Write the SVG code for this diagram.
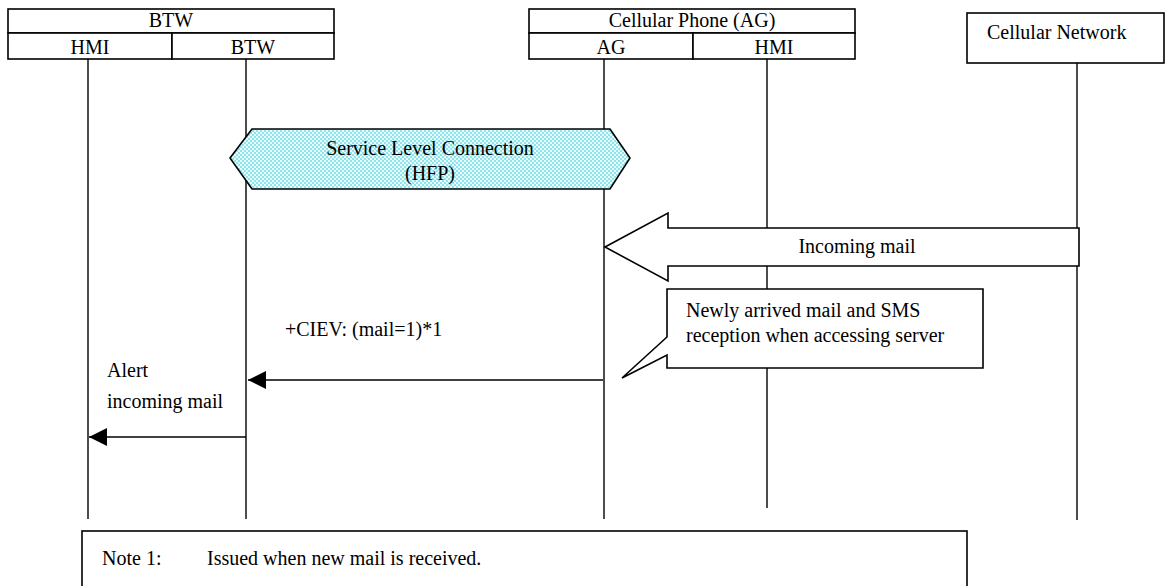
<svg xmlns="http://www.w3.org/2000/svg" width="1167" height="586" viewBox="0 0 1167 586">
<style>
text{font-family:"Liberation Serif","Times New Roman",serif;font-size:20px;fill:#000}
.c{text-anchor:middle}
.box{fill:#fff;stroke:#000;stroke-width:1.6}
.life{stroke:#000;stroke-width:1.4;fill:none}
.msg{stroke:#000;stroke-width:1.6;fill:none}
</style>
<defs>
<pattern id="dots" width="4" height="4" patternUnits="userSpaceOnUse">
<rect width="4" height="4" fill="#8fe3ea"/>
<rect x="0" y="0" width="2" height="2" fill="#e8fbfc"/>
<rect x="2" y="2" width="2" height="2" fill="#e8fbfc"/>
</pattern>
<marker id="ah" viewBox="0 0 18 18" refX="18" refY="9" markerWidth="18" markerHeight="18" markerUnits="userSpaceOnUse" orient="auto">
<path d="M0,0 L18,9 L0,18 Z" fill="#000"/>
</marker>
</defs>

<g id="btw">
<rect class="box" x="8" y="9" width="326" height="24"/>
<rect class="box" x="8" y="33" width="164" height="26"/>
<rect class="box" x="172" y="33" width="162" height="26"/>
<text class="c" x="171" y="27">BTW</text>
<text class="c" x="90" y="54">HMI</text>
<text class="c" x="253" y="54">BTW</text>
</g>

<g id="phone">
<rect class="box" x="529" y="9" width="326" height="24"/>
<rect class="box" x="529" y="33" width="164" height="26"/>
<rect class="box" x="693" y="33" width="162" height="26"/>
<text class="c" x="692" y="27">Cellular Phone (AG)</text>
<text class="c" x="611" y="54">AG</text>
<text class="c" x="774" y="54">HMI</text>
</g>

<g id="network">
<rect class="box" x="967" y="13" width="197" height="50"/>
<text x="987" y="39">Cellular Network</text>
</g>

<g id="lifelines">
<line class="life" x1="88" y1="59" x2="88" y2="519"/>
<line class="life" x1="246" y1="59" x2="246" y2="519"/>
<line class="life" x1="604" y1="59" x2="604" y2="519"/>
<line class="life" x1="767" y1="59" x2="767" y2="508"/>
<line class="life" x1="1077" y1="63" x2="1077" y2="520"/>
</g>

<g id="slc">
<polygon points="230,158 252,129 610,129 630,158 610,189 252,189" fill="url(#dots)" stroke="#000" stroke-width="1.6"/>
<text class="c" x="430" y="155">Service Level Connection</text>
<text class="c" x="430" y="180">(HFP)</text>
</g>

<g id="incoming">
<polygon points="605,247 668,213 668,228 1079,228 1079,266 668,266 668,281" fill="#fff" stroke="#000" stroke-width="1.6"/>
<text class="c" x="857" y="253">Incoming mail</text>
</g>

<g id="callout">
<path d="M667,337 L667,289 L983,289 L983,368 L667,368 L667,355 L622,378 Z" fill="#fff" stroke="#000" stroke-width="1.6"/>
<text x="686" y="317">Newly arrived mail and SMS</text>
<text x="686" y="342">reception when accessing server</text>
</g>

<g id="connectors">
<line class="msg" x1="603" y1="380" x2="248" y2="380" marker-end="url(#ah)"/>
<line class="msg" x1="246" y1="437" x2="89" y2="437" marker-end="url(#ah)"/>
</g>

<g id="labels">
<text x="285" y="336">+CIEV: (mail=1)*1</text>
<text x="107" y="377">Alert</text>
<text x="107" y="408">incoming mail</text>
</g>

<g id="note">
<rect class="box" x="82" y="531" width="885" height="60"/>
<text x="102" y="565">Note 1:</text>
<text x="207" y="565">Issued when new mail is received.</text>
</g>
</svg>
